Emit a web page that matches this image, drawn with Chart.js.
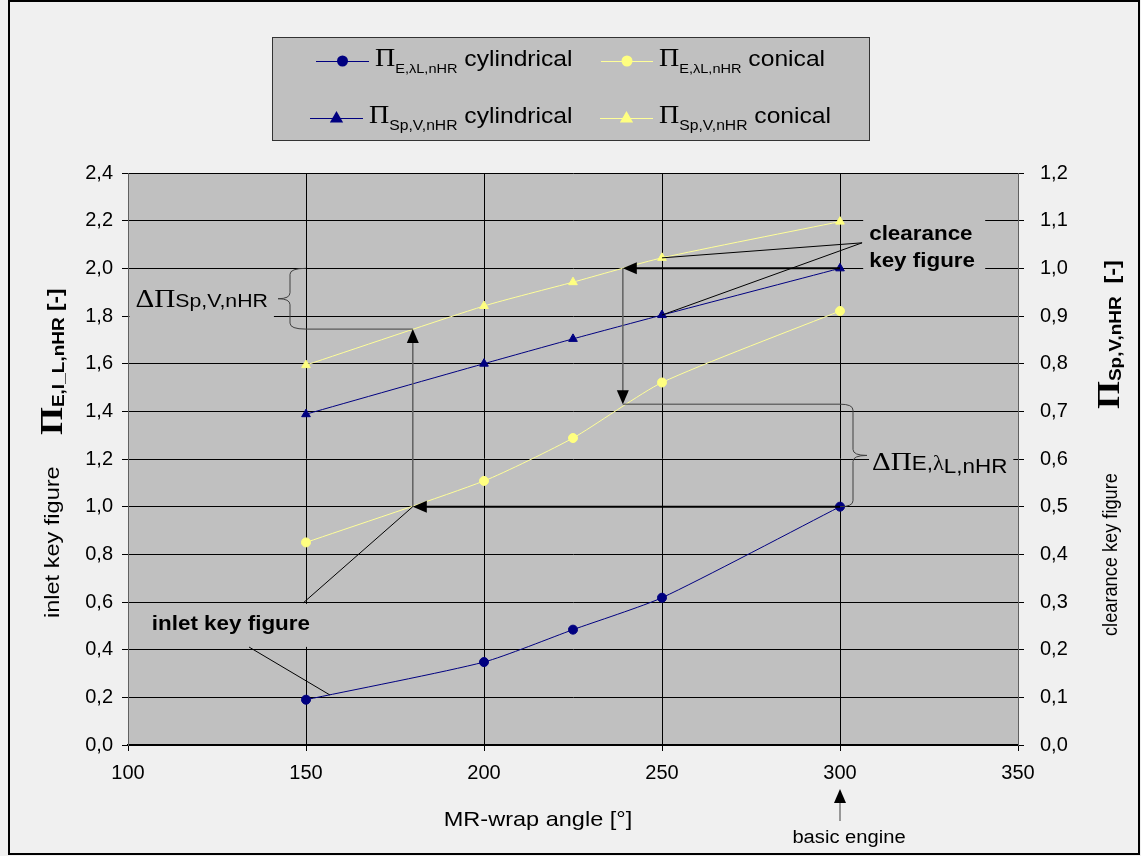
<!DOCTYPE html>
<html>
<head>
<meta charset="utf-8">
<script src="https://cdn.jsdelivr.net/npm/chart.js@4.4.0/dist/chart.umd.min.js"></script>
<style>
  html, body { margin: 0; padding: 0; background: #f0f0f0; }
  #wrap { width: 1141px; height: 856px; }
</style>
</head>
<body>
<div id="wrap"><canvas id="chart" width="1141" height="856"></canvas></div>
<script>
// MR-wrap angle [°]
const angles = [150, 200, 225, 250, 300];
// inlet key figure (left axis)
const inletCyl = [0.19, 0.348, 0.484, 0.618, 1.0];
const inletCon = [0.85, 1.108, 1.288, 1.521, 1.821];
// clearance key figure (right axis)
const clearCyl = [0.694, 0.8, 0.852, 0.902, 1.0];
const clearCon = [0.797, 0.921, 0.971, 1.022, 1.098];

const xTicks = [100, 150, 200, 250, 300, 350];
const leftTicks = [0, 0.2, 0.4, 0.6, 0.8, 1.0, 1.2, 1.4, 1.6, 1.8, 2.0, 2.2, 2.4];
const rightTicks = [0, 0.1, 0.2, 0.3, 0.4, 0.5, 0.6, 0.7, 0.8, 0.9, 1.0, 1.1, 1.2];

const SANS = '"Liberation Sans", Arial, sans-serif';
const SERIF = '"Liberation Serif", "Times New Roman", serif';
const NAVY = '#000080';
const PALE = '#ffff99';
const PLOT_BG = '#c0c0c0';
const STRETCH = 1.12; // the original text is rendered a bit wide

const pts = ys => angles.map((a, i) => ({ x: a, y: ys[i] }));
const comma = v => Number(v).toFixed(1).replace('.', ',');

// draws a run of text pieces (mixed fonts) along one baseline
function runText(ctx, parts, x, y, angle, stretch) {
    const s = stretch || STRETCH;
    ctx.save();
    ctx.translate(x, y);
    if (angle) ctx.rotate(angle);
    ctx.scale(s, 1);
    ctx.textAlign = 'left';
    ctx.textBaseline = 'alphabetic';
    let cx = 0;
    parts.forEach(p => {
        if (p.gap) { cx += p.gap / s; return; }
        ctx.font = p.font;
        ctx.fillStyle = '#000';
        ctx.fillText(p.t, cx, p.dy || 0);
        cx += ctx.measureText(p.t).width;
    });
    ctx.restore();
    return cx * s;
}

function runWidth(ctx, parts) {
    ctx.save();
    let w = 0;
    parts.forEach(p => {
        if (p.gap) { w += p.gap / STRETCH; return; }
        ctx.font = p.font;
        w += ctx.measureText(p.t).width;
    });
    ctx.restore();
    return w * STRETCH;
}

function line(ctx, x1, y1, x2, y2, color, width) {
    ctx.save();
    ctx.strokeStyle = color;
    ctx.lineWidth = width || 1;
    ctx.beginPath();
    ctx.moveTo(x1, y1);
    ctx.lineTo(x2, y2);
    ctx.stroke();
    ctx.restore();
}

function head(ctx, x, y, dir) {
    const L = 14, W = 6;
    ctx.save();
    ctx.fillStyle = '#000';
    ctx.beginPath();
    ctx.moveTo(x, y);
    if (dir === 'left') { ctx.lineTo(x + L, y - W); ctx.lineTo(x + L, y + W); }
    if (dir === 'up') { ctx.lineTo(x - W, y + L); ctx.lineTo(x + W, y + L); }
    if (dir === 'down') { ctx.lineTo(x - W, y - L); ctx.lineTo(x + W, y - L); }
    ctx.closePath();
    ctx.fill();
    ctx.restore();
}

// curly brace, dir -1 bulges to the left, +1 to the right
function brace(ctx, x, yTop, yBot, dir, depth, tip) {
    const mid = (yTop + yBot) / 2, r = 6;
    const xb = x + dir * depth, xt = x + dir * tip;
    ctx.save();
    ctx.strokeStyle = '#404040';
    ctx.lineWidth = 1;
    ctx.beginPath();
    ctx.moveTo(x, yTop);
    ctx.quadraticCurveTo(xb, yTop, xb, yTop + r);
    ctx.lineTo(xb, mid - r);
    ctx.quadraticCurveTo(xb, mid, xt, mid);
    ctx.quadraticCurveTo(xb, mid, xb, mid + r);
    ctx.lineTo(xb, yBot - r);
    ctx.quadraticCurveTo(xb, yBot, x, yBot);
    ctx.stroke();
    ctx.restore();
}

function marker(ctx, style, x, y, size, color) {
    ctx.save();
    ctx.fillStyle = color;
    ctx.beginPath();
    if (style === 'circle') {
        ctx.arc(x, y, size, 0, Math.PI * 2);
    } else {
        ctx.moveTo(x, y - size);
        ctx.lineTo(x + size * 0.95, y + size * 0.65);
        ctx.lineTo(x - size * 0.95, y + size * 0.65);
        ctx.closePath();
    }
    ctx.fill();
    ctx.restore();
}

const backdrop = {
    id: 'backdrop',
    beforeDraw(chart) {
        const ctx = chart.ctx, a = chart.chartArea;
        ctx.save();
        ctx.fillStyle = '#f0f0f0';
        ctx.fillRect(0, 0, chart.width, chart.height);
        ctx.fillStyle = PLOT_BG;
        ctx.fillRect(a.left, a.top, a.right - a.left, a.bottom - a.top);
        ctx.restore();
    },
    afterDraw(chart) {
        const ctx = chart.ctx;
        ctx.save();
        ctx.strokeStyle = '#000';
        ctx.lineWidth = 2;
        ctx.strokeRect(9, 1, 1130, 853);
        ctx.restore();
    }
};

const legendBox = {
    id: 'legendBox',
    afterDraw(chart) {
        const ctx = chart.ctx;
        ctx.save();
        ctx.fillStyle = PLOT_BG;
        ctx.fillRect(272, 37, 598, 104);
        ctx.strokeStyle = '#333';
        ctx.lineWidth = 1;
        ctx.strokeRect(272.5, 37.5, 597, 103);
        ctx.restore();

        const pi = { t: 'Π', font: `25px ${SERIF}` };
        const subE = { t: 'E,λL,nHR', font: `13px ${SANS}`, dy: 7 };
        const subS = { t: 'Sp,V,nHR', font: `14px ${SANS}`, dy: 7 };
        const entries = [
            { x1: 316, x2: 369, y: 61, color: NAVY, line: NAVY, style: 'circle', size: 5.5, parts: [pi, subE, { t: ' cylindrical', font: `22px ${SANS}` }] },
            { x1: 601, x2: 653, y: 61, color: '#ffff80', line: PALE, style: 'circle', size: 5.5, parts: [pi, subE, { t: ' conical', font: `22px ${SANS}` }] },
            { x1: 310, x2: 363, y: 118, color: NAVY, line: NAVY, style: 'triangle', size: 7, parts: [pi, subS, { t: ' cylindrical', font: `22px ${SANS}` }] },
            { x1: 600, x2: 653, y: 118, color: '#ffff80', line: PALE, style: 'triangle', size: 7, parts: [pi, subS, { t: ' conical', font: `22px ${SANS}` }] }
        ];
        entries.forEach(e => {
            line(ctx, e.x1, e.y + 0.5, e.x2, e.y + 0.5, e.line, 1);
            marker(ctx, e.style, (e.x1 + e.x2) / 2, e.y, e.size, e.color);
            runText(ctx, e.parts, e.x2 + 6, e.y + 5);
        });
    }
};

const annotations = {
    id: 'annotations',
    afterDatasetsDraw(chart) {
        const ctx = chart.ctx, a = chart.chartArea;
        const X = v => chart.scales.x.getPixelForValue(v);
        const YL = v => chart.scales.y.getPixelForValue(v);
        const YR = v => chart.scales.y1.getPixelForValue(v);

        const dSp = [{ t: 'Δ', font: `26px ${SERIF}` }, { t: 'Π', font: `26px ${SERIF}` }, { t: 'Sp,V,nHR', font: `19px ${SANS}` }];
        const dE = [{ t: 'Δ', font: `26px ${SERIF}` }, { t: 'Π', font: `26px ${SERIF}` }, { t: 'E,', font: `20px ${SANS}` },
                    { t: 'λ', font: `20px ${SERIF}` }, { t: 'L,nHR', font: `20px ${SANS}`, dy: 3 }];
        const bold = `bold 20px ${SANS}`;

        // grey boxes behind the labels (they hide the grid)
        ctx.save();
        ctx.fillStyle = PLOT_BG;
        const wSp = runWidth(ctx, dSp);
        const spRight = X(139.3), spBase = YL(1.838);
        ctx.fillRect(spRight - wSp - 6, spBase - 28, wSp + 12, 41);
        const wE = runWidth(ctx, dE);
        const eLeft = X(309), eBase = YL(1.154);
        ctx.fillRect(eLeft - 3, eBase - 30, wE + 9, 42);
        const cLeft = X(308.2);
        ctx.fillRect(cLeft - 6, YL(2.119) - 24, 122, 58);
        ctx.fillRect(a.left + 1, YL(0.592), X(150.3) - a.left, 43);
        ctx.restore();

        // inlet: 300° -> conical at same inlet value, then up to clearance
        line(ctx, X(300), YL(1.0), X(180) + 10, YL(1.0), '#000', 2);
        head(ctx, X(180), YL(1.0), 'left');
        line(ctx, X(180), YL(1.0), X(180), YL(1.745) + 10, '#606060', 1.5);
        head(ctx, X(180), YL(1.745), 'up');
        line(ctx, X(150), YL(1.745), X(180), YL(1.745), '#404040', 1);
        brace(ctx, X(150), YL(2.0), YL(1.745), -1, 16, 28);
        runText(ctx, dSp, spRight - wSp, spBase);

        // clearance: 300° -> conical at same clearance value, then down to inlet
        line(ctx, X(300), YR(1.0), X(239) + 10, YR(1.0), '#000', 2);
        head(ctx, X(239), YR(1.0), 'left');
        line(ctx, X(239), YR(1.0), X(239), YL(1.43) - 10, '#606060', 1.5);
        head(ctx, X(239), YL(1.43), 'down');
        line(ctx, X(239), YL(1.43), X(300), YL(1.43), '#404040', 1);
        brace(ctx, X(300), YL(1.43), YL(1.0), 1, 13, 27);
        runText(ctx, dE, eLeft, eBase);

        // clearance key figure label and leaders
        const lx = X(306.2), ly = YL(2.107);
        line(ctx, lx, ly, X(angles[3]), YR(clearCon[3]), '#000', 1);
        line(ctx, lx, ly, X(angles[3]), YR(clearCyl[3]), '#000', 1);
        runText(ctx, [{ t: 'clearance', font: bold }], cLeft, YL(2.119));
        runText(ctx, [{ t: 'key figure', font: bold }], cLeft, YL(2.006));

        // inlet key figure label and leaders
        line(ctx, X(149.2), YL(0.596), X(180), YL(1.0), '#000', 1);
        line(ctx, X(134), YL(0.411), X(156.7), YL(0.21), '#000', 1);
        runText(ctx, [{ t: 'inlet key figure', font: bold }], X(106.7), YL(0.483));
    },
    afterDraw(chart) {
        const ctx = chart.ctx, a = chart.chartArea;
        const X = v => chart.scales.x.getPixelForValue(v);
        const up = -Math.PI / 2;

        // x axis title
        const xt = [{ t: 'MR-wrap angle [°]', font: `21px ${SANS}` }];
        runText(ctx, xt, 538 - runWidth(ctx, xt) / 2, a.bottom + 81);

        // basic engine marker
        line(ctx, X(300), a.bottom + 76, X(300), a.bottom + 50, '#404040', 1);
        head(ctx, X(300), a.bottom + 44, 'up');
        const be = [{ t: 'basic engine', font: `18px ${SANS}` }];
        runText(ctx, be, X(300) + 9 - runWidth(ctx, be) / 2, a.bottom + 98);

        // left axis title
        runText(ctx, [{ t: 'inlet key figure', font: `21px ${SANS}` }], 59, 618, up);
        runText(ctx, [
            { t: 'Π', font: `bold 32px ${SERIF}` },
            { t: 'E,I_L,nHR', font: `bold 17px ${SANS}`, dy: 2 },
            { t: ' [-]', font: `bold 20px ${SANS}` }
        ], 62, 435, up);

        // right axis title
        runText(ctx, [{ t: 'clearance key figure', font: `20px ${SANS}` }], 1117, 636, up, 0.91);
        runText(ctx, [
            { t: 'Π', font: `bold 32px ${SERIF}` },
            { t: 'Sp,V,nHR', font: `bold 17px ${SANS}`, dy: 2 },
            { gap: 6 },
            { t: ' [-]', font: `bold 21px ${SANS}` }
        ], 1119, 409, up);
    }
};

const tickFont = { family: SANS, size: 20 };

new Chart(document.getElementById('chart'), {
    type: 'line',
    data: {
        datasets: [
            {
                label: 'ΠE,λL,nHR cylindrical', data: pts(inletCyl), yAxisID: 'y',
                borderColor: NAVY, backgroundColor: NAVY, pointBackgroundColor: NAVY, pointBorderColor: NAVY,
                pointStyle: 'circle', pointRadius: 4.5
            },
            {
                label: 'ΠE,λL,nHR conical', data: pts(inletCon), yAxisID: 'y',
                borderColor: PALE, backgroundColor: '#ffff80', pointBackgroundColor: '#ffff80', pointBorderColor: '#ffff80',
                pointStyle: 'circle', pointRadius: 4.5
            },
            {
                label: 'ΠSp,V,nHR cylindrical', data: pts(clearCyl), yAxisID: 'y1',
                borderColor: NAVY, backgroundColor: NAVY, pointBackgroundColor: NAVY, pointBorderColor: NAVY,
                pointStyle: 'triangle', pointRadius: 5
            },
            {
                label: 'ΠSp,V,nHR conical', data: pts(clearCon), yAxisID: 'y1',
                borderColor: PALE, backgroundColor: '#ffff80', pointBackgroundColor: '#ffff80', pointBorderColor: '#ffff80',
                pointStyle: 'triangle', pointRadius: 5
            }
        ]
    },
    options: {
        responsive: false,
        animation: false,
        devicePixelRatio: 1,
        layout: { padding: { top: 173, left: 0, right: 0, bottom: 0 } },
        elements: { line: { tension: 0.2, borderWidth: 1 }, point: { borderWidth: 1 } },
        plugins: { legend: { display: false }, tooltip: { enabled: false } },
        scales: {
            x: {
                type: 'linear', min: 100, max: 350,
                afterBuildTicks: s => { s.ticks = xTicks.map(v => ({ value: v })); },
                afterFit: s => { s.height = 111; },
                grid: {
                    color: c => (c.tick && (c.tick.value === 100 || c.tick.value === 350)) ? '#606060' : '#000',
                    lineWidth: 1, tickLength: 6, tickColor: '#000'
                },
                border: { color: '#000', width: 2 },
                ticks: { font: tickFont, color: '#000', padding: 10, maxRotation: 0, callback: v => String(v) }
            },
            y: {
                position: 'left', min: 0, max: 2.4,
                afterBuildTicks: s => { s.ticks = leftTicks.map(v => ({ value: v })); },
                afterFit: s => { s.width = 128; },
                grid: { color: '#000', lineWidth: 1, tickLength: 6, tickColor: '#000' },
                border: { color: '#606060', width: 1 },
                ticks: { font: tickFont, color: '#000', padding: 9, callback: comma }
            },
            y1: {
                position: 'right', min: 0, max: 1.2,
                afterBuildTicks: s => { s.ticks = rightTicks.map(v => ({ value: v })); },
                afterFit: s => { s.width = 123; },
                grid: { drawOnChartArea: false, color: '#000', tickLength: 6, tickColor: '#000' },
                border: { color: '#606060', width: 1 },
                ticks: { font: tickFont, color: '#000', padding: 16, callback: comma }
            }
        }
    },
    plugins: [backdrop, legendBox, annotations]
});
</script>
</body>
</html>
